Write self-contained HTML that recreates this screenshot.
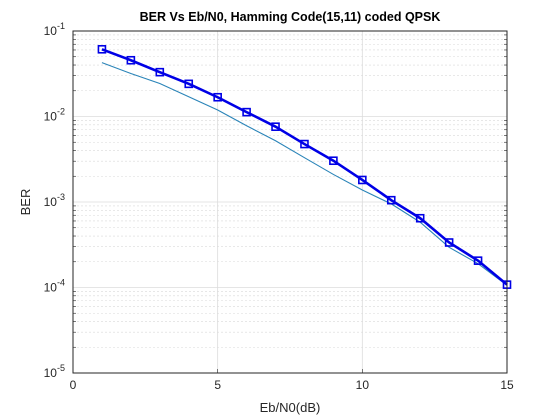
<!DOCTYPE html>
<html><head><meta charset="utf-8"><style>
body{margin:0;background:#fff;}
svg{display:block;font-family:"Liberation Sans",Arial,sans-serif;}
</style></head><body>
<svg id="chart" width="560" height="420" viewBox="0 0 560 420" xmlns="http://www.w3.org/2000/svg">
<rect x="0" y="0" width="560" height="420" fill="#fff"/>
<g id="grid"></g>
<g id="series"></g>
<g id="axes"></g>
<text x="290" y="21" text-anchor="middle" font-size="12.5" font-weight="bold" fill="#000">BER Vs Eb/N0, Hamming Code(15,11) coded QPSK</text>
<text x="290" y="412" text-anchor="middle" font-size="13" fill="#262626">Eb/N0(dB)</text>
<text transform="translate(30,202) rotate(-90)" text-anchor="middle" font-size="13" fill="#262626">BER</text>
</svg>
<script>
const ebn0 = [1,2,3,4,5,6,7,8,9,10,11,12,13,14,15];
const simBER = [0.0611,0.0455,0.033,0.0241,0.0168,0.01125,0.0076,0.00476,0.00304,0.00181,0.00105,0.000646,0.000336,0.000206,0.000108];
const theoryBER = [0.0427,0.0318,0.0243,0.017,0.0119,0.0078,0.0052,0.0033,0.0021,0.00138,0.00095,0.00058,0.000295,0.00019,0.000106];
const xTicks = [0,5,10,15];
const yTickExps = [-1,-2,-3,-4,-5];

const L=73, R=507, T=31, B=373;
const xMin=0, xMax=15, eMax=-1, eMin=-5;
function xs(v){return L+(v-xMin)/(xMax-xMin)*(R-L);}
function ys(v){return T+(eMax-Math.log10(v))/(eMax-eMin)*(B-T);}
const NS="http://www.w3.org/2000/svg";
function mk(tag,attrs,parent){const e=document.createElementNS(NS,tag);for(const k in attrs)e.setAttribute(k,attrs[k]);parent.appendChild(e);return e;}
const grid=document.getElementById('grid'), axes=document.getElementById('axes'), series=document.getElementById('series');

for(let e=eMin;e<eMax;e++){for(let m=2;m<=9;m++){const y=ys(m*Math.pow(10,e));
 const g=mk('line',{x1:L,x2:R,y1:y,y2:y,stroke:'#d9d9d9','stroke-width':0.6,'stroke-dasharray':'2,2'},grid);
 
 
 const t1=mk('line',{x1:L,x2:L+3,y1:y,y2:y,stroke:'#262626','stroke-width':0.6},axes);
 
 
 const t2=mk('line',{x1:R,x2:R-3,y1:y,y2:y,stroke:'#262626','stroke-width':0.6},axes);
 
 
}}
yTickExps.forEach(e=>{const y=ys(Math.pow(10,e));
 const g=mk('line',{x1:L,x2:R,y1:y,y2:y,stroke:'#dcdcdc','stroke-width':0.8},grid);
 
 
 const t=mk('text',{x:L-8,y:y+4,'text-anchor':'end','font-size':12,fill:'#262626'},axes);
 
 
 t.innerHTML='10<tspan dy="-6" font-size="9">'+e+'</tspan>';
});
xTicks.forEach(v=>{const x=xs(v);
 const g=mk('line',{x1:x,x2:x,y1:T,y2:B,stroke:'#dcdcdc','stroke-width':0.8},grid);
 
 
 const tk=mk('line',{x1:x,x2:x,y1:B,y2:B-4,stroke:'#262626','stroke-width':0.6},axes);
 
 
 const t=mk('text',{x:x,y:B+16,'text-anchor':'middle','font-size':12,fill:'#262626'},axes);
 
 
 t.textContent=v;
});
const box=mk('rect',{x:L,y:T,width:R-L,height:B-T,fill:'none',stroke:'#262626','stroke-width':1},axes);



const tp=mk('polyline',{points:ebn0.map((v,i)=>xs(v)+','+ys(theoryBER[i])).join(' '),fill:'none',stroke:'#2a84b8','stroke-width':1.1},series);


const sp=mk('polyline',{points:ebn0.map((v,i)=>xs(v)+','+ys(simBER[i])).join(' '),fill:'none',stroke:'#0000e6','stroke-width':2.6},series);


ebn0.forEach((v,i)=>{
 const m=mk('rect',{x:xs(v)-3.5,y:ys(simBER[i])-3.5,width:7,height:7,fill:'none',stroke:'#0000e6','stroke-width':1.6},series);
 
 
});
</script>
</body></html>
